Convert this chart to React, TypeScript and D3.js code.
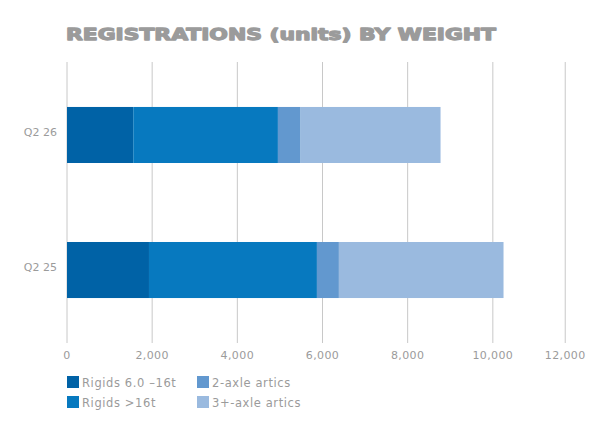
import React from 'react'
import * as d3 from 'd3'

// Periods, top to bottom
const periods = ['Q2 26', 'Q2 25']

// Series (stack order left to right)
const seriesNames = ['Rigids 6.0 –16t', 'Rigids >16t', '2-axle artics', '3+-axle artics']
const seriesColors = ['#0062a6', '#0779bf', '#6298cf', '#9abadf']

// Values, per period
const rigidsSmall = [1556, 1925]
const rigidsLarge = [3397, 3944]
const twoAxle = [533, 516]
const threeAxle = [3286, 3866]

// Axis ticks as drawn in the reference (last grid line sits short of 12,000)
const tickValues = [0, 2000, 4000, 6000, 8000, 10000, 11700]
const tickLabels = ['0', '2,000', '4,000', '6,000', '8,000', '10,000', '12,000']

const W = 595
const H = 430
const grey = '#9b9b9b'
const font = '"DejaVu Sans", sans-serif'

export default function App() {
  const rows = periods.map((p, i) => ({
    period: p,
    values: [rigidsSmall[i], rigidsLarge[i], twoAxle[i], threeAxle[i]],
  }))

  const x = d3.scaleLinear().domain([0, 12000]).range([67, 578])
  const y = d3.scaleBand<string>()
    .domain(periods)
    .range([62, 343])
    .paddingInner(0.585)
    .paddingOuter(0.333)

  const stack = d3.stack<any>()
    .keys(seriesNames)
    .value((d, key) => d.values[seriesNames.indexOf(key)])
  const layers = stack(rows)

  const gridTop = 62
  const gridBottom = 343

  return (
    <div style={{ position: 'absolute', left: 0, top: 0 }}>
      <svg width={W} height={H} viewBox={`0 0 ${W} ${H}`} style={{ display: 'block', background: '#fff' }}>
        {/* title */}
        <text
          x={66}
          y={40}
          fill={grey}
          stroke={grey}
          strokeWidth={1.3}
          strokeLinejoin="round"
          fontFamily={font}
          fontWeight="bold"
          fontSize={16.5}
          textLength={430}
          lengthAdjust="spacingAndGlyphs"
        >
          REGISTRATIONS (units) BY WEIGHT
        </text>

        {/* grid lines */}
        {tickValues.map((t) => (
          <line
            key={t}
            x1={x(t)}
            x2={x(t)}
            y1={gridTop}
            y2={gridBottom}
            stroke="#c8c8c8"
            strokeWidth={1}
          />
        ))}

        {/* bars */}
        {layers.map((layer, li) => (
          <g key={layer.key} fill={seriesColors[li]}>
            {layer.map((seg, i) => (
              <rect
                key={i}
                x={x(seg[0])}
                y={y(rows[i].period)}
                width={x(seg[1]) - x(seg[0])}
                height={y.bandwidth()}
              />
            ))}
          </g>
        ))}

        {/* category labels */}
        {periods.map((p) => (
          <text
            key={p}
            x={57}
            y={(y(p) ?? 0) + y.bandwidth() / 2 - 3}
            dy="0.35em"
            textAnchor="end"
            fill={grey}
            fontFamily={font}
            fontSize={11}
          >
            {p}
          </text>
        ))}

        {/* x tick labels */}
        {tickValues.map((t, i) => (
          <text
            key={t}
            x={x(t)}
            y={359}
            textAnchor="middle"
            fill={grey}
            fontFamily={font}
            fontSize={11}
            letterSpacing={0.4}
          >
            {tickLabels[i]}
          </text>
        ))}

        {/* legend: two columns of two */}
        {seriesNames.map((name, i) => {
          const col = i < 2 ? 0 : 1
          const row = i % 2
          const lx = col === 0 ? 67 : 197
          const ly = row === 0 ? 376 : 396
          return (
            <g key={name} transform={`translate(${lx},${ly})`}>
              <rect width={12} height={12} fill={seriesColors[i]} />
              <text x={15} y={10.5} fill={grey} fontFamily={font} fontSize={11.5} letterSpacing={0.6}>
                {name}
              </text>
            </g>
          )
        })}
      </svg>
    </div>
  )
}
